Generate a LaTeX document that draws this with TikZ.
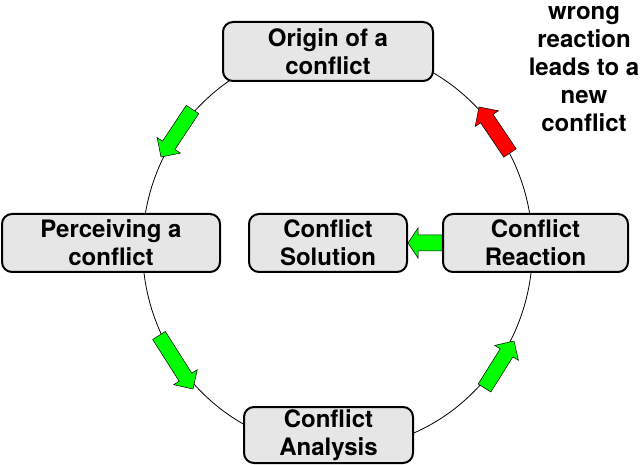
\documentclass[tikz,border=0pt]{standalone}
\usepackage{fontspec}
\setmainfont{TeX Gyre Heros}
\usetikzlibrary{calc}
\pgfdeclarelayer{bg}
\pgfsetlayers{bg,main}
\definecolor{boxgray}{RGB}{230,230,230}
\definecolor{arrgreen}{RGB}{0,255,0}
\definecolor{arrred}{RGB}{255,0,0}
\tikzset{
  stagebox/.style={draw=black, line width=2pt, rounded corners=10pt, fill=boxgray,
    align=center, inner sep=0pt, font=\bfseries\fontsize{24}{28}\selectfont},
  cycleline/.style={draw=black, line width=0.8pt},
  greenarrow/.style={fill=arrgreen, draw=black, line width=0.5pt},
  redarrow/.style={fill=arrred, draw=black, line width=0.5pt},
  notetext/.style={align=center, inner sep=0pt, font=\bfseries\fontsize{24}{28}\selectfont}
}
% block arrow: #1 style, #2 tail, #3 tip, #4 body half width, #5 head half width, #6 head length
\newcommand\blockarrow[6]{%
  \coordinate (hb) at ($(#3)!#6!(#2)$);
  \path[#1] ($(#2)!#4!90:(#3)$) -- ($(hb)!#4!90:(#3)$) -- ($(hb)!#5!90:(#3)$) -- (#3)
    -- ($(hb)!#5!-90:(#3)$) -- ($(hb)!#4!-90:(#3)$) -- ($(#2)!#4!-90:(#3)$) -- cycle;}
\begin{document}
\begin{tikzpicture}[x=1pt,y=-1pt]
\useasboundingbox (0,0) rectangle (643,465);
% nodes
\node[stagebox, minimum width=210pt, minimum height=59pt] (origin) at (328,51.5) {Origin of a\\conflict};
\node[stagebox, minimum width=218pt, minimum height=58pt] (perceive) at (111,243) {Perceiving a\\conflict};
\node[stagebox, minimum width=158pt, minimum height=58pt] (solution) at (328,243) {Conflict\\Solution};
\node[stagebox, minimum width=185pt, minimum height=58pt] (reaction) at (535.5,243) {Conflict\\Reaction};
\node[stagebox, minimum width=169pt, minimum height=56pt] (analysis) at (328.5,435) {Conflict\\Analysis};
\node[notetext] (note) at (584,69) {wrong\\reaction\\leads to a\\new\\conflict};
% arrow end points
\coordinate (a1t) at (192.5,109.5); \coordinate (a1h) at (161,157);
\coordinate (a2t) at (159,335.5);   \coordinate (a2h) at (193,389);
\coordinate (a3t) at (484.5,388);   \coordinate (a3h) at (514,341);
\coordinate (a4t) at (510,153);     \coordinate (a4h) at (479,107);
\coordinate (a5t) at (reaction.west); \coordinate (a5h) at (solution.east);
\begin{pgfonlayer}{bg}
\coordinate (ctr) at (337.5,248);
\draw[cycleline] (ctr) ellipse [x radius=195pt, y radius=201pt];
\blockarrow{greenarrow}{a1t}{a1h}{7.5pt}{14pt}{14pt}
\blockarrow{greenarrow}{a2t}{a2h}{7.5pt}{14pt}{14pt}
\blockarrow{greenarrow}{a3t}{a3h}{7.5pt}{14pt}{14pt}
\blockarrow{redarrow}{a4t}{a4h}{7.5pt}{14pt}{14pt}
\blockarrow{greenarrow}{a5t}{a5h}{8pt}{15pt}{10pt}
\end{pgfonlayer}
\end{tikzpicture}
\end{document}
